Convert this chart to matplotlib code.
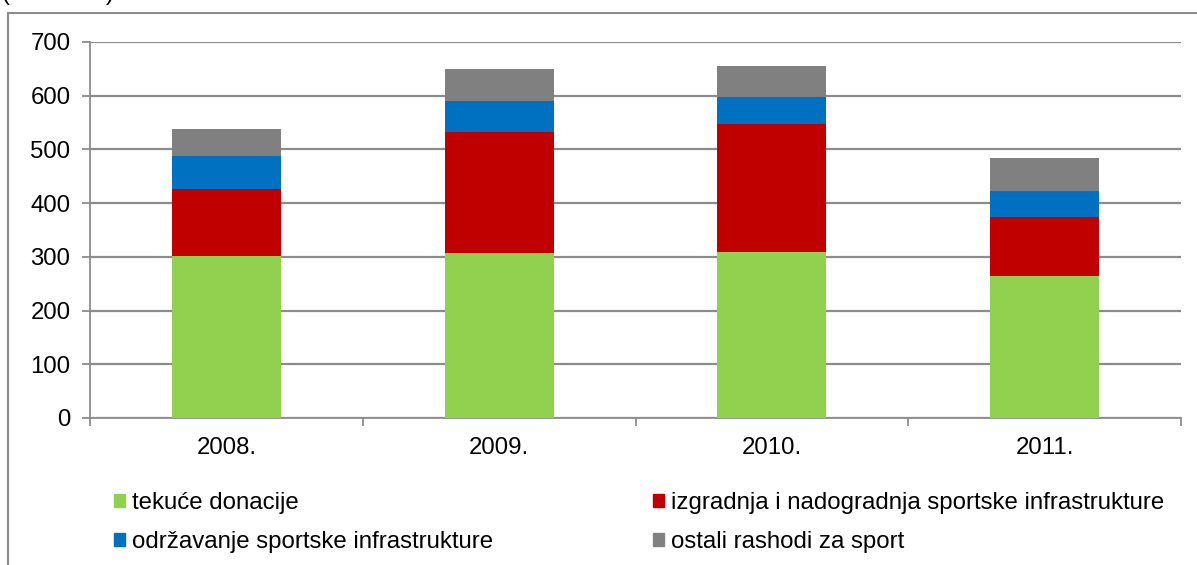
import numpy as np
import matplotlib.pyplot as plt
from matplotlib.patches import Patch, Rectangle

plt.rcParams['font.family'] = ['Liberation Sans', 'DejaVu Sans']
plt.rcParams['font.size'] = 17.3

years = ['2008.', '2009.', '2010.', '2011.']
tekuce = [302, 308, 309, 264]
izgradnja = [125, 224, 239, 111]
odrzavanje = [60, 59, 50, 48]
ostali = [51, 58, 57, 61]

names = ['tekuće donacije',
         'izgradnja i nadogradnja sportske infrastrukture',
         'održavanje sportske infrastrukture',
         'ostali rashodi za sport']
colors = ['#92D050', '#C00000', '#0070C0', '#808080']

W, H = 1197, 565
fig = plt.figure(figsize=(W / 100, H / 100), dpi=100)
ax = fig.add_axes([90 / W, 1 - 418 / H, (1181 - 90) / W, (418 - 42) / H])

x = np.arange(len(years))
bottom = np.zeros(len(years))
for vals, col in zip([tekuce, izgradnja, odrzavanje, ostali], colors):
    ax.bar(x, vals, width=0.4, bottom=bottom, color=col, zorder=3)
    bottom += np.array(vals)

ax.set_xlim(-0.5, len(years) - 0.5)
ax.set_ylim(0, 700)
ax.set_yticks(range(0, 701, 100))
ax.yaxis.grid(True, color='#8c8c8c', linewidth=1.6, zorder=0)

# category ticks sit between the bars
ax.set_xticks(np.arange(-0.5, len(years)), minor=False)
ax.set_xticklabels([])
ax.set_xticks(x, minor=True)
ax.set_xticklabels(years, minor=True)
ax.tick_params(axis='x', which='minor', length=0, pad=14)
ax.tick_params(axis='x', which='major', length=6, color='#8c8c8c', width=1.3)
ax.tick_params(axis='y', length=6, color='#8c8c8c', width=1.3, pad=8)

for s in ['top', 'right']:
    ax.spines[s].set_visible(False)
for s in ['left', 'bottom']:
    ax.spines[s].set_color('#8c8c8c')
    ax.spines[s].set_linewidth(1.3)

# outer chart border
fig.patches.append(Rectangle((8 / W, -0.05), 1.2, 1 - 13 / H + 0.05,
                             transform=fig.transFigure, fill=False,
                             edgecolor='#8c8c8c', linewidth=1.5))

# unit caption, running off the top edge
fig.text(2 / W, 1.0, '(mil. kuna)', va='baseline', ha='left')

handles = [Patch(color=colors[i]) for i in [0, 2, 1, 3]]
labels = [names[i] for i in [0, 2, 1, 3]]
fig.legend(handles, labels, ncol=2, loc='upper left',
           bbox_to_anchor=(102 / W, 1 - 480 / H), frameon=False,
           handlelength=0.45, handleheight=0.45, handletextpad=0.3,
           columnspacing=6.65, labelspacing=0.72, borderpad=0)

fig.savefig('out.png', dpi=100)
